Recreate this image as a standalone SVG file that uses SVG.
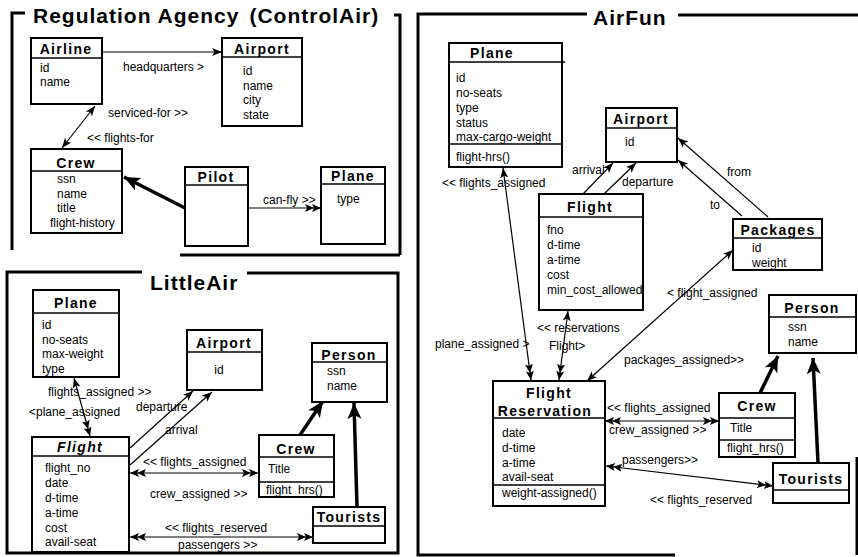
<svg xmlns="http://www.w3.org/2000/svg" width="858" height="557" viewBox="0 0 858 557">
<style>
.frame{fill:none;stroke:#000;stroke-width:3}
.box{fill:#fff;stroke:#000;stroke-width:2}
.dv{stroke:#000;stroke-width:1.6}
.t{font-family:"Liberation Sans",Arial,sans-serif;font-size:14px;font-weight:bold;letter-spacing:1.3px;text-anchor:middle}
.a{font-family:"Liberation Sans",Arial,sans-serif;font-size:12px}
.ft{font-family:"Liberation Sans",Arial,sans-serif;font-size:21px;font-weight:bold;letter-spacing:1px}
.c{fill:none;stroke:#000;stroke-width:1.2}
.th{fill:none;stroke:#000;stroke-width:3.5}
</style>
<defs>
<marker id="a1" markerUnits="userSpaceOnUse" markerWidth="11" markerHeight="9" refX="10" refY="4.5" orient="auto-start-reverse"><path d="M0,0.5 L10,4.5 L0,8.5 L2.5,4.5 z"/></marker>
<marker id="a2" markerUnits="userSpaceOnUse" markerWidth="17" markerHeight="9" refX="16" refY="4.5" orient="auto-start-reverse"><path d="M0,0.5 L9,4.5 L0,8.5 L2,4.5 z M7,0.5 L16,4.5 L7,8.5 L9,4.5 z"/></marker>
<marker id="big" markerUnits="userSpaceOnUse" markerWidth="17" markerHeight="15" refX="16" refY="7.5" orient="auto"><path d="M0,0.5 L16,7.5 L0,14.5 L4,7.5 z"/></marker>
</defs>
<rect width="858" height="557" fill="#fff"/>

<g id="frames">
<path class="frame" d="M25,13 L12,13 L12,250"/>
<path class="frame" d="M394,15 L400,15 L400,255"/>
<path class="frame" d="M180,255 L400,255"/>
<text class="ft" x="33" y="23">Regulation Agency<tspan dx="10">(ControlAir)</tspan></text>
<path class="frame" d="M142,272 L7,272 L7,553 L398,553 L398,273 L247,273"/>
<text class="ft" x="150" y="290">LittleAir</text>
<path class="frame" d="M587,14 L418,14 L418,555 L675,555"/>
<path class="frame" d="M678,15 L858,15"/>
<path class="frame" d="M857,457 L857,555"/>
<text class="ft" x="593" y="25">AirFun</text>
</g>

<g id="connectors">
<line class="c" x1="102" y1="52" x2="222" y2="52" marker-end="url(#a1)"/>
<line class="c" x1="95" y1="106" x2="62" y2="148" marker-start="url(#a1)" marker-end="url(#a1)"/>
<line class="th" x1="185" y1="208" x2="124" y2="177" marker-end="url(#big)"/>
<line class="c" x1="248" y1="208" x2="321" y2="208" marker-end="url(#a2)"/>

<line class="c" x1="74" y1="378" x2="90" y2="436" marker-start="url(#a1)" marker-end="url(#a2)"/>
<line class="c" x1="130" y1="448" x2="193" y2="391" marker-end="url(#a1)"/>
<line class="c" x1="130" y1="465" x2="212" y2="392" marker-end="url(#a1)"/>
<line class="c" x1="130" y1="473" x2="258" y2="473" marker-start="url(#a2)" marker-end="url(#a2)"/>
<line class="c" x1="130" y1="537" x2="313" y2="537" marker-start="url(#a2)" marker-end="url(#a2)"/>
<line class="th" x1="300" y1="435" x2="323" y2="401" marker-end="url(#big)"/>
<line class="th" x1="357" y1="507" x2="354" y2="403" marker-end="url(#big)"/>

<line class="c" x1="503" y1="168" x2="531" y2="380" marker-start="url(#a1)" marker-end="url(#a2)"/>
<line class="c" x1="568" y1="311" x2="559" y2="380" marker-start="url(#a1)" marker-end="url(#a2)"/>
<line class="c" x1="583" y1="194" x2="613" y2="163" marker-end="url(#a1)"/>
<line class="c" x1="604" y1="194" x2="636" y2="163" marker-end="url(#a1)"/>
<line class="c" x1="768" y1="217" x2="678" y2="138" marker-end="url(#a1)"/>
<line class="c" x1="742" y1="216" x2="678" y2="160" marker-end="url(#a1)"/>
<line class="c" x1="587" y1="381" x2="733" y2="250" marker-start="url(#a1)" marker-end="url(#a1)"/>
<line class="c" x1="605" y1="421" x2="719" y2="421" marker-start="url(#a2)" marker-end="url(#a2)"/>
<line class="c" x1="606" y1="466" x2="773" y2="486" marker-start="url(#a2)" marker-end="url(#a2)"/>
<line class="th" x1="760" y1="393" x2="778" y2="356" marker-end="url(#big)"/>
<line class="th" x1="818" y1="463" x2="813" y2="358" marker-end="url(#big)"/>

<g class="a">
<text x="123" y="71">headquarters &gt;</text>
<text x="108" y="117">serviced-for &gt;&gt;</text>
<text x="87" y="142">&lt;&lt; flights-for</text>
<text x="263" y="204">can-fly &gt;&gt;</text>
<text x="48" y="396">flights_assigned &gt;&gt;</text>
<text x="29" y="416">&lt;plane_assigned</text>
<text x="136" y="411">departure</text>
<text x="165" y="434">arrival</text>
<text x="143" y="466">&lt;&lt; flights_assigned</text>
<text x="150" y="498">crew_assigned &gt;&gt;</text>
<text x="165" y="532">&lt;&lt; flights_reserved</text>
<text x="178" y="549">passengers &gt;&gt;</text>
<text x="442" y="187">&lt;&lt; flights_assigned</text>
<text x="435" y="348">plane_assigned &gt;</text>
<text x="537" y="332">&lt;&lt; reservations</text>
<text x="549" y="350">Flight&gt;</text>
<text x="572" y="174">arrival</text>
<text x="622" y="186">departure</text>
<text x="727" y="176">from</text>
<text x="710" y="209">to</text>
<text x="667" y="297">&lt; flight_assigned</text>
<text x="624" y="364">packages_assigned&gt;&gt;</text>
<text x="607" y="412">&lt;&lt; flights_assigned</text>
<text x="609" y="434">crew_assigned &gt;&gt;</text>
<text x="622" y="464">passengers&gt;&gt;</text>
<text x="650" y="504">&lt;&lt; flights_reserved</text>
</g>
</g>

<g id="ra-airline">
<rect class="box" x="31" y="38" width="71" height="66"/>
<line class="dv" x1="31" y1="58" x2="102" y2="58"/>
<text class="t" x="66" y="54">Airline</text>
<text class="a" x="40" y="72">id</text>
<text class="a" x="40" y="86">name</text>
</g>
<g id="ra-airport">
<rect class="box" x="222" y="38" width="80" height="88"/>
<line class="dv" x1="222" y1="57" x2="302" y2="57"/>
<text class="t" x="262" y="54">Airport</text>
<text class="a" x="243" y="75">id</text>
<text class="a" x="243" y="90">name</text>
<text class="a" x="243" y="104">city</text>
<text class="a" x="243" y="119">state</text>
</g>
<g id="ra-crew">
<rect class="box" x="31" y="149" width="91" height="84"/>
<line class="dv" x1="31" y1="171" x2="122" y2="171"/>
<text class="t" x="76" y="168">Crew</text>
<text class="a" x="57" y="183">ssn</text>
<text class="a" x="57" y="198">name</text>
<text class="a" x="57" y="212">title</text>
<text class="a" x="50" y="227">flight-history</text>
</g>
<g id="ra-pilot">
<rect class="box" x="185" y="167" width="63" height="79"/>
<line class="dv" x1="185" y1="185" x2="248" y2="185"/>
<text class="t" x="216" y="182">Pilot</text>
</g>
<g id="ra-plane">
<rect class="box" x="321" y="167" width="64" height="77"/>
<line class="dv" x1="321" y1="184" x2="385" y2="184"/>
<text class="t" x="353" y="181">Plane</text>
<text class="a" x="337" y="203">type</text>
</g>

<g id="la-plane">
<rect class="box" x="33" y="290" width="86" height="87"/>
<line class="dv" x1="33" y1="313" x2="119" y2="313"/>
<text class="t" x="76" y="308">Plane</text>
<text class="a" x="42" y="329">id</text>
<text class="a" x="42" y="344">no-seats</text>
<text class="a" x="42" y="358">max-weight</text>
<text class="a" x="42" y="373">type</text>
</g>
<g id="la-airport">
<rect class="box" x="187" y="330" width="75" height="60"/>
<line class="dv" x1="187" y1="352" x2="262" y2="352"/>
<text class="t" x="224" y="348">Airport</text>
<text class="a" x="219" y="374" text-anchor="middle">id</text>
</g>
<g id="la-flight">
<rect class="box" x="32" y="437" width="97" height="115"/>
<line class="dv" x1="32" y1="456" x2="129" y2="456"/>
<text class="t" x="80" y="452" font-style="italic">Flight</text>
<text class="a" x="45" y="472">flight_no</text>
<text class="a" x="45" y="487">date</text>
<text class="a" x="45" y="502">d-time</text>
<text class="a" x="45" y="517">a-time</text>
<text class="a" x="45" y="532">cost</text>
<text class="a" x="45" y="546">avail-seat</text>
</g>
<g id="la-person">
<rect class="box" x="312" y="343" width="75" height="59"/>
<line class="dv" x1="312" y1="362" x2="387" y2="362"/>
<text class="t" x="349" y="360">Person</text>
<text class="a" x="327" y="375">ssn</text>
<text class="a" x="327" y="390">name</text>
</g>
<g id="la-crew">
<rect class="box" x="259" y="435" width="75" height="62"/>
<line class="dv" x1="259" y1="457" x2="334" y2="457"/>
<line class="dv" x1="259" y1="482" x2="334" y2="482"/>
<text class="t" x="296" y="454">Crew</text>
<text class="a" x="268" y="473">Title</text>
<text class="a" x="266" y="494">flight_hrs()</text>
</g>
<g id="la-tourists">
<rect class="box" x="313" y="507" width="72" height="36"/>
<line class="dv" x1="313" y1="526" x2="385" y2="526"/>
<text class="t" x="349" y="522">Tourists</text>
</g>

<g id="af-plane">
<rect class="box" x="449" y="43" width="113" height="124"/>
<line class="dv" x1="449" y1="62" x2="565" y2="62"/>
<line class="dv" x1="449" y1="144" x2="562" y2="144"/>
<text class="t" x="492" y="58">Plane</text>
<text class="a" x="456" y="82">id</text>
<text class="a" x="456" y="97">no-seats</text>
<text class="a" x="456" y="112">type</text>
<text class="a" x="456" y="127">status</text>
<text class="a" x="456" y="141">max-cargo-weight</text>
<text class="a" x="456" y="161">flight-hrs()</text>
</g>
<g id="af-airport">
<rect class="box" x="606" y="108" width="71" height="54"/>
<line class="dv" x1="606" y1="128" x2="677" y2="128"/>
<text class="t" x="641" y="124">Airport</text>
<text class="a" x="625" y="146">id</text>
</g>
<g id="af-flight">
<rect class="box" x="539" y="194" width="104" height="116"/>
<line class="dv" x1="539" y1="217" x2="643" y2="217"/>
<text class="t" x="590" y="212">Flight</text>
<text class="a" x="547" y="234">fno</text>
<text class="a" x="547" y="249">d-time</text>
<text class="a" x="547" y="264">a-time</text>
<text class="a" x="547" y="279">cost</text>
<text class="a" x="547" y="294">min_cost_allowed</text>
</g>
<g id="af-packages">
<rect class="box" x="733" y="219" width="89" height="51"/>
<line class="dv" x1="733" y1="238" x2="822" y2="238"/>
<text class="t" x="778" y="235">Packages</text>
<text class="a" x="752" y="252">id</text>
<text class="a" x="752" y="267">weight</text>
</g>
<g id="af-reservation">
<rect class="box" x="493" y="381" width="112" height="125"/>
<line class="dv" x1="493" y1="418" x2="605" y2="418"/>
<line class="dv" x1="493" y1="485" x2="605" y2="485"/>
<text class="t" x="549" y="398">Flight</text>
<text class="t" x="545" y="416">Reservation</text>
<text class="a" x="502" y="437">date</text>
<text class="a" x="502" y="452">d-time</text>
<text class="a" x="502" y="467">a-time</text>
<text class="a" x="502" y="481">avail-seat</text>
<text class="a" x="502" y="497">weight-assigned()</text>
</g>
<g id="af-person">
<rect class="box" x="769" y="295" width="87" height="58"/>
<line class="dv" x1="769" y1="317" x2="856" y2="317"/>
<text class="t" x="812" y="313">Person</text>
<text class="a" x="788" y="331">ssn</text>
<text class="a" x="788" y="346">name</text>
</g>
<g id="af-crew">
<rect class="box" x="719" y="393" width="76" height="64"/>
<line class="dv" x1="719" y1="418" x2="795" y2="418"/>
<line class="dv" x1="719" y1="440" x2="795" y2="440"/>
<text class="t" x="757" y="411">Crew</text>
<text class="a" x="730" y="432">Title</text>
<text class="a" x="727" y="452">flight_hrs()</text>
</g>
<g id="af-tourists">
<rect class="box" x="773" y="463" width="76" height="40"/>
<line class="dv" x1="773" y1="490" x2="849" y2="490"/>
<text class="t" x="811" y="484">Tourists</text>
</g>
</svg>
